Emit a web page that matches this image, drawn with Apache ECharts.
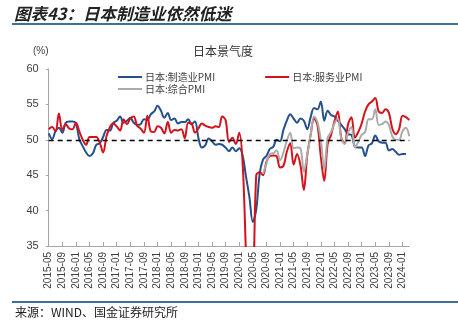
<!DOCTYPE html>
<html><head><meta charset="utf-8">
<script src="https://cdn.jsdelivr.net/npm/echarts@6/dist/echarts.min.js"></script>
<style>html,body{margin:0;padding:0;background:#fff}#c{width:458px;height:324px}</style>
</head><body><div id="c"></div>
<script>
// months 2015-05 .. 2024-03
const startYear = 2015, startMonth = 5, monthCount = 107;
const categories = [];
for (let i = 0; i < monthCount; i++) {
  const m = startMonth - 1 + i;
  const y = startYear + Math.floor(m / 12);
  const mm = (m % 12) + 1;
  categories.push(y + '-' + (mm < 10 ? '0' + mm : '' + mm));
}
const seriesNames = ['日本:制造业PMI', '日本:服务业PMI', '日本:综合PMI'];
const manufacturing = [
  50.9, 50.1, 51.2, 51.7, 51.0, 52.4, 52.6, 52.6,
  52.3, 50.1, 49.1, 48.2, 47.7, 48.1, 49.3, 49.5, 50.4, 51.4, 51.3, 52.4,
  52.7, 53.3, 52.4, 52.7, 53.1, 52.4, 52.1, 52.2, 52.9, 52.8, 53.6, 54.0,
  54.8, 54.1, 53.1, 53.8, 52.8, 53.0, 52.3, 52.5, 52.5, 52.9, 52.2, 52.6,
  50.3, 48.9, 49.2, 50.2, 49.8, 49.3, 49.4, 49.3, 48.9, 48.4, 48.9, 48.4,
  48.8, 47.8, 44.8, 41.9, 38.4, 40.1, 45.2, 47.2, 47.7, 48.7, 49.0, 50.0,
  49.8, 51.4, 52.7, 53.6, 53.0, 52.4, 53.0, 52.7, 51.5, 53.2, 54.5, 54.3,
  55.4, 52.7, 54.1, 53.5, 53.3, 52.7, 52.1, 51.5, 50.8, 50.7, 49.0, 48.9,
  48.9, 47.7, 49.2, 49.5, 50.6, 49.8, 49.6, 49.6, 48.5, 48.7, 48.3, 47.9,
  48.0, 48.0, null
];
const services = [
  51.5, 51.8, 51.2, 53.7, 51.4, 52.2, 51.6, 51.5,
  52.4, 51.2, 50.0, 49.3, 50.4, 50.4, 50.4, 49.6, 48.2, 50.5, 51.8, 52.3,
  51.9, 51.3, 52.9, 52.2, 53.0, 53.3, 52.0, 51.6, 51.0, 53.4, 51.2, 51.1,
  51.9, 51.7, 50.9, 52.5, 51.0, 51.4, 51.3, 51.5, 50.2, 52.4, 52.3, 51.0,
  51.6, 52.3, 52.0, 51.8, 51.7, 51.9, 51.8, 53.3, 52.8, 49.7, 50.3, 49.4,
  51.0, 46.8, 33.8, 21.5, 26.5, 45.0, 45.4, 45.0, 46.9, 47.7, 47.8, 47.7,
  46.1, 46.3, 48.3, 49.5, 46.5, 48.0, 46.4, 42.9, 47.8, 50.7, 53.0, 52.1,
  47.6, 44.2, 49.4, 50.7, 52.6, 54.0, 50.3, 49.5, 52.2, 53.2, 50.3, 51.1,
  52.3, 54.0, 55.0, 55.4, 55.9, 54.0, 53.8, 54.3, 53.8, 51.6, 50.8, 51.5,
  53.4, 53.2, 52.8
];
const composite = [
  null, null, null, null, null, null, null, null,
  null, null, null, null, null, null, null, null, null, null, null, null,
  null, null, null, null, null, null, null, null, null, null, null, null,
  null, null, null, null, null, null, null, null, null, null, null, null,
  null, null, null, null, null, null, null, null, null, null, null, null,
  null, null, null, null, null, null, null, 45.2, 46.6, 48.0, 48.1, 48.5,
  47.1, 48.2, 49.9, 51.0, 48.8, 48.9, 48.8, 45.5, 47.9, 50.7, 53.3, 52.5,
  49.9, 45.8, 50.3, 51.1, 52.3, 53.0, 50.2, 49.4, 51.0, 51.8, 48.9, 49.7,
  50.7, 51.1, 52.9, 52.9, 54.3, 52.1, 52.2, 52.6, 52.1, 50.5, 50.0, 50.0,
  51.2, 51.7, 50.5
];
const yMin = 35, yMax = 60, yStep = 5, refLevel = 50;

const CJK = '"Noto Sans CJK SC", "Liberation Sans", sans-serif';
const LAT = '"Liberation Sans", Arial, "Noto Sans CJK SC", sans-serif';
const colors = ['#24508e', '#d5121b', '#ababab'];

const chart = echarts.init(document.getElementById('c'), null, {renderer: 'canvas'});
chart.setOption({
  animation: false,
  backgroundColor: '#fff',
  grid: {left: 48.7, right: 48.7, top: 69, bottom: 78, containLabel: false},
  legend: [
    {data: [seriesNames[0], seriesNames[1]], left: 113, top: 67, itemWidth: 24, itemHeight: 2,
     itemGap: 50, icon: 'rect', textStyle: {fontFamily: CJK, fontSize: 10, color: '#404040', padding: [0,0,0,-2]}},
    {data: [seriesNames[2]], left: 113, top: 79, itemWidth: 24, itemHeight: 2,
     icon: 'rect', textStyle: {fontFamily: CJK, fontSize: 10, color: '#404040', padding: [0,0,0,-2]}}
  ],
  xAxis: {
    type: 'category', data: categories, boundaryGap: false,
    axisLine: {lineStyle: {color: '#a6a6a6', width: 1}},
    axisTick: {inside: true, length: 4, interval: 3, lineStyle: {color: '#a6a6a6'}},
    axisLabel: {interval: 3, rotate: 90, margin: 6, fontFamily: LAT, fontSize: 10, color: '#404040'},
    splitLine: {show: false}
  },
  yAxis: {
    type: 'value', min: yMin, max: yMax, interval: yStep,
    axisLine: {show: true, lineStyle: {color: '#a6a6a6', width: 1}},
    axisTick: {show: true, length: 3, lineStyle: {color: '#a6a6a6'}},
    axisLabel: {fontFamily: LAT, fontSize: 11, color: '#404040', margin: 10},
    splitLine: {show: false}
  },
  series: [
    {name: seriesNames[0], type: 'line', data: manufacturing, smooth: 0.35, symbol: 'none',
     lineStyle: {width: 2, color: colors[0]}, itemStyle: {color: colors[0]}, z: 3,
     markLine: {silent: true, symbol: 'none', label: {show: false},
       lineStyle: {type: [5, 4], color: '#000', width: 1.3}, data: [{yAxis: refLevel}]}},
    {name: seriesNames[1], type: 'line', data: services, smooth: 0.35, symbol: 'none',
     lineStyle: {width: 2, color: colors[1]}, itemStyle: {color: colors[1]}, z: 3},
    {name: seriesNames[2], type: 'line', data: composite, smooth: 0.35, symbol: 'none',
     lineStyle: {width: 2, color: colors[2]}, itemStyle: {color: colors[2]}, z: 3}
  ],
  graphic: [
    {type: 'text', left: 14, top: 5, style: {text: '图表43：日本制造业依然低迷', fontFamily: CJK, fontSize: 16.5,
      fontWeight: 'bold', fontStyle: 'italic', fill: '#222'}},
    {type: 'rect', shape: {x: 12, y: 23, width: 446, height: 2}, style: {fill: '#3d6f98'}},
    {type: 'text', left: 33, top: 46, style: {text: '(%)', fontFamily: LAT, fontSize: 10, fill: '#404040'}},
    {type: 'text', left: 193, top: 45, style: {text: '日本景气度', fontFamily: CJK, fontSize: 12, fill: '#333'}},
    {type: 'rect', shape: {x: 12, y: 301, width: 446, height: 2}, style: {fill: '#3d6f98'}},
    {type: 'text', left: 15, top: 306, style: {text: '来源：WIND、国金证券研究所', fontFamily: CJK, fontSize: 12, fill: '#222'}}
  ]
});
</script></body></html>
